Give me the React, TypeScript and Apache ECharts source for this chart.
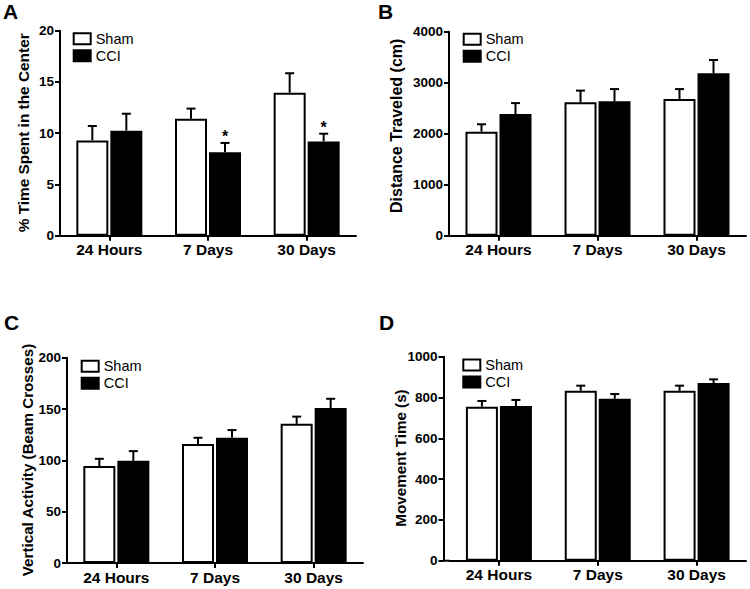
import React, { useEffect, useRef } from 'react';
import * as echarts from 'echarts';

const CATEGORIES = ['24 Hours', '7 Days', '30 Days'];
const GROUP_NAMES = ['Sham', 'CCI'];

// Panel A: % Time Spent in the Center
const A_SHAM = [9.3, 11.4, 13.95];
const A_SHAM_ERR = [1.4, 1.0, 1.9];
const A_CCI = [10.25, 8.15, 9.2];
const A_CCI_ERR = [1.65, 0.9, 0.75];
const A_CCI_SIG = [0, 1, 1];
const A_Y_TICKS = [0, 5, 10, 15, 20];

// Panel B: Distance Traveled (cm)
const B_SHAM = [2040, 2615, 2680];
const B_SHAM_ERR = [145, 230, 195];
const B_CCI = [2385, 2635, 3185];
const B_CCI_ERR = [215, 240, 260];
const B_CCI_SIG = [0, 0, 0];
const B_Y_TICKS = [0, 1000, 2000, 3000, 4000];

// Panel C: Vertical Activity (Beam Crosses)
const C_SHAM = [94.5, 116, 135.6];
const C_SHAM_ERR = [7, 6, 7];
const C_CCI = [99.5, 122, 151];
const C_CCI_ERR = [9.5, 7.5, 9];
const C_CCI_SIG = [0, 0, 0];
const C_Y_TICKS = [0, 50, 100, 150, 200];

// Panel D: Movement Time (s)
const D_SHAM = [755, 833, 833];
const D_SHAM_ERR = [28, 25, 25];
const D_CCI = [758, 794, 871];
const D_CCI_ERR = [30, 23, 18];
const D_CCI_SIG = [0, 0, 0];
const D_Y_TICKS = [0, 200, 400, 600, 800, 1000];

const FONT = 'Arial, "Liberation Sans", Helvetica, sans-serif';
const BAR_W = 32;
const GAP_PX = 2;
const OFFSET = (BAR_W + GAP_PX) / 2;
const CAP = 9;

const PANELS = [
  {
    label: 'A', title: '% Time Spent in the Center', titleSize: 15.4,
    sham: A_SHAM, shamErr: A_SHAM_ERR, cci: A_CCI, cciErr: A_CCI_ERR, cciSig: A_CCI_SIG, ticks: A_Y_TICKS,
    grid: { left: 60, top: 30.7, width: 296, height: 205 }, yOffset: 0,
    titlePos: [23.5, 132.8], labelPos: [3, 1], legendPos: [72.7, 30.2],
  },
  {
    label: 'B', title: 'Distance Traveled (cm)', titleSize: 16,
    sham: B_SHAM, shamErr: B_SHAM_ERR, cci: B_CCI, cciErr: B_CCI_ERR, cciSig: B_CCI_SIG, ticks: B_Y_TICKS,
    grid: { left: 449, top: 31.7, width: 297, height: 204 }, yOffset: 0,
    titlePos: [396, 125.8], labelPos: [378, 1], legendPos: [462.7, 30.7],
  },
  {
    label: 'C', title: 'Vertical Activity (Beam Crosses)', titleSize: 15.2,
    sham: C_SHAM, shamErr: C_SHAM_ERR, cci: C_CCI, cciErr: C_CCI_ERR, cciSig: C_CCI_SIG, ticks: C_Y_TICKS,
    grid: { left: 67, top: 357.7, width: 296, height: 205.3 }, yOffset: 0,
    titlePos: [27.5, 460], labelPos: [4, 312], legendPos: [80.7, 357.8],
  },
  {
    label: 'D', title: 'Movement Time (s)', titleSize: 15.2,
    sham: D_SHAM, shamErr: D_SHAM_ERR, cci: D_CCI, cciErr: D_CCI_ERR, cciSig: D_CCI_SIG, ticks: D_Y_TICKS,
    grid: { left: 449.5, top: 356.7, width: 296.5, height: 204 }, yOffset: 6,
    titlePos: [400.5, 458], labelPos: [379, 312], legendPos: [462.3, 356.5],
  },
];

function errRenderer(side: number) {
  return (params: any, api: any) => {
    const c = api.value(0);
    const v = api.value(1);
    const e = api.value(2);
    const s = api.value(3);
    const base = api.coord([c, v]);
    const top = api.coord([c, v + e]);
    const x = base[0] + side * OFFSET;
    const children: any[] = [
      { type: 'line', shape: { x1: x, y1: base[1], x2: x, y2: top[1] }, style: { stroke: '#000', lineWidth: 2 } },
      { type: 'line', shape: { x1: x - CAP / 2, y1: top[1], x2: x + CAP / 2, y2: top[1] }, style: { stroke: '#000', lineWidth: 2 } },
    ];
    if (s) {
      children.push({
        type: 'text', x, y: top[1] + 2,
        style: { text: '*', fontSize: 16, fontWeight: 'bold', fontFamily: FONT, fill: '#000', align: 'center', verticalAlign: 'bottom' },
      });
    }
    return { type: 'group', children };
  };
}

function buildOption() {
  const grids: any[] = [];
  const xAxes: any[] = [];
  const yAxes: any[] = [];
  const series: any[] = [];
  const legends: any[] = [];
  const graphics: any[] = [];

  PANELS.forEach((p, i) => {
    grids.push({ ...p.grid, containLabel: false });
    xAxes.push({
      type: 'category', gridIndex: i, data: CATEGORIES, boundaryGap: true,
      axisLine: { show: true, lineStyle: { color: '#000', width: 2 } },
      axisTick: { show: true, alignWithLabel: true, length: 5, lineStyle: { color: '#000', width: 2 } },
      axisLabel: { color: '#000', fontSize: 15.5, fontWeight: 'bold', fontFamily: FONT, margin: 6 },
      splitLine: { show: false },
    });
    const ticks = p.ticks;
    yAxes.push({
      type: 'value', gridIndex: i, min: ticks[0], max: ticks[ticks.length - 1], interval: ticks[1] - ticks[0],
      offset: p.yOffset,
      axisLine: { show: true, lineStyle: { color: '#000', width: 2 } },
      axisTick: { show: true, length: 5, lineStyle: { color: '#000', width: 2 } },
      axisLabel: {
        color: '#000', fontSize: 13.5, fontWeight: 'bold', fontFamily: FONT, margin: 6,
        formatter: (v: number) => String(v),
      },
      splitLine: { show: false },
    });
    series.push({
      type: 'bar', name: GROUP_NAMES[0], xAxisIndex: i, yAxisIndex: i, data: p.sham,
      barWidth: BAR_W, barGap: (GAP_PX / BAR_W) * 100 + '%',
      itemStyle: { color: '#fff', borderColor: '#000', borderWidth: 2 },
    });
    series.push({
      type: 'bar', name: GROUP_NAMES[1], xAxisIndex: i, yAxisIndex: i, data: p.cci,
      barWidth: BAR_W, barGap: (GAP_PX / BAR_W) * 100 + '%',
      itemStyle: { color: '#000', borderColor: '#000', borderWidth: 2 },
    });
    series.push({
      type: 'custom', xAxisIndex: i, yAxisIndex: i, z: 5,
      renderItem: errRenderer(-1),
      data: p.sham.map((v, k) => [k, v, p.shamErr[k], 0]),
    });
    series.push({
      type: 'custom', xAxisIndex: i, yAxisIndex: i, z: 5,
      renderItem: errRenderer(1),
      data: p.cci.map((v, k) => [k, v, p.cciErr[k], p.cciSig[k]]),
    });
    legends.push({
      orient: 'vertical', left: p.legendPos[0], top: p.legendPos[1], padding: 0,
      itemWidth: 17, itemHeight: 11, itemGap: 0, selectedMode: false, icon: 'rect',
      textStyle: { color: '#000', fontSize: 14.5, fontFamily: FONT, lineHeight: 17 },
      data: [
        { name: GROUP_NAMES[0], itemStyle: { color: '#fff', borderColor: '#000', borderWidth: 2 } },
        { name: GROUP_NAMES[1], itemStyle: { color: '#000', borderColor: '#000', borderWidth: 2 } },
      ],
    });
    graphics.push({
      type: 'text', x: p.titlePos[0], y: p.titlePos[1], rotation: Math.PI / 2,
      style: { text: p.title, fontSize: p.titleSize, fontWeight: 'bold', fontFamily: FONT, fill: '#000', align: 'center', verticalAlign: 'middle' },
    });
    graphics.push({
      type: 'text', x: p.labelPos[0], y: p.labelPos[1],
      style: { text: p.label, fontSize: 21, fontWeight: 'bold', fontFamily: FONT, fill: '#000', align: 'left', verticalAlign: 'top' },
    });
    if (p.yOffset) {
      const yb = p.grid.top + p.grid.height;
      graphics.push({
        type: 'line', shape: { x1: p.grid.left - p.yOffset - 1, y1: yb, x2: p.grid.left, y2: yb },
        style: { stroke: '#000', lineWidth: 2 },
      });
    }
  });

  return {
    animation: false,
    backgroundColor: '#fff',
    grid: grids,
    xAxis: xAxes,
    yAxis: yAxes,
    series,
    legend: legends,
    graphic: graphics,
  };
}

export default function App() {
  const ref = useRef<HTMLDivElement>(null);
  useEffect(() => {
    document.body.style.margin = '0';
    if (!ref.current) return;
    const chart = echarts.init(ref.current, undefined, { renderer: 'svg' });
    chart.setOption(buildOption() as any);
    return () => chart.dispose();
  }, []);
  return <div ref={ref} style={{ width: 750, height: 589 }} />;
}
